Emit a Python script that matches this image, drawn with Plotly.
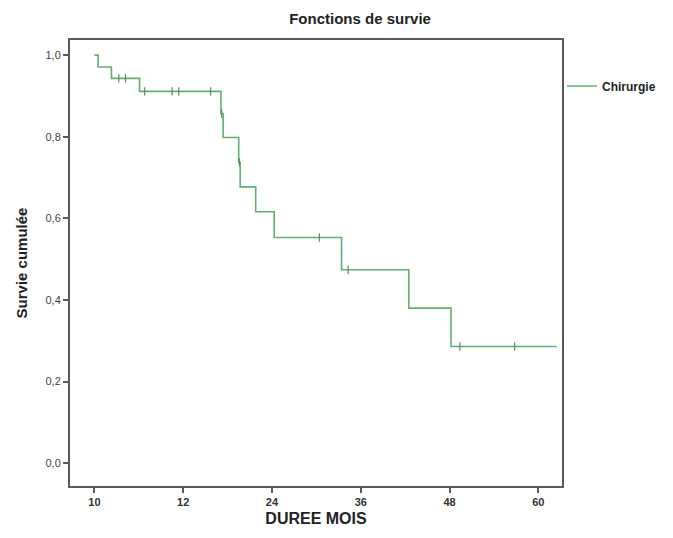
import numpy as np
import plotly.graph_objects as go

# Kaplan-Meier steps (months, cumulative survival)
event_times = [0.0, 0.5, 2.3, 6.1, 17.1, 17.4, 19.5, 19.7, 21.8, 24.3, 33.4, 42.5, 48.2, 62.5]
survival = [1.0, 0.971, 0.943, 0.911, 0.857, 0.798, 0.737, 0.677, 0.616, 0.553, 0.474, 0.380, 0.286, 0.286]
censored_times = [3.3, 4.2, 6.8, 10.5, 11.4, 15.7, 17.2, 19.6, 30.4, 34.3, 49.4, 56.8]

x_tickvals = [0, 12, 24, 36, 48, 60]
x_ticktext = ["10", "12", "24", "36", "48", "60"]
y_tickvals = [0.0, 0.2, 0.4, 0.6, 0.8, 1.0]

green = "#62b06e"
axis_col = "#5a5a5a"

idx = np.searchsorted(np.array(event_times), np.array(censored_times), side="right") - 1
cens_y = [survival[i] for i in idx]

fig = go.Figure()
fig.add_trace(go.Scatter(
    x=event_times, y=survival, mode="lines", line=dict(shape="hv", color=green, width=1.6),
    name="Chirurgie", showlegend=True))
fig.add_trace(go.Scatter(
    x=censored_times, y=cens_y, mode="markers",
    marker=dict(symbol="line-ns", size=6, line=dict(color="#5d8a66", width=1.2)),
    showlegend=False, hoverinfo="skip"))

fig.update_layout(
    width=673, height=538,
    margin=dict(l=70, r=96, t=40, b=52),
    paper_bgcolor="white", plot_bgcolor="white",
    separators=",.",
    title=dict(text="<b>Fonctions de survie</b>", x=0.535, xanchor="center", y=0.965, yanchor="middle",
               font=dict(family="Liberation Sans, Arial", size=15, color="#222")),
    legend=dict(x=1.0, y=0.897, xanchor="left", yanchor="middle", bgcolor="rgba(0,0,0,0)",
                itemwidth=30,
                font=dict(family="Liberation Sans, Arial", size=12, color="#222", weight="bold")),
    font=dict(family="Liberation Sans, Arial", color="#333"),
)
fig.update_xaxes(
    range=[-3.3, 63.2], tickvals=x_tickvals, ticktext=x_ticktext,
    showgrid=False, zeroline=False, showline=True, mirror=True, linecolor=axis_col, linewidth=2,
    ticks="outside", ticklen=5, tickcolor=axis_col, tickwidth=1.5,
    tickfont=dict(size=11, color="#333", weight="bold"),
    title=dict(text="<b>DUREE MOIS</b>", standoff=6, font=dict(size=16, color="#222")))
fig.update_yaxes(
    range=[-0.056, 1.037], tickvals=y_tickvals, tickformat=".1f",
    showgrid=False, zeroline=False, showline=True, mirror=True, linecolor=axis_col, linewidth=2,
    ticks="outside", ticklen=5, tickcolor=axis_col, tickwidth=1.5,
    tickfont=dict(size=11, color="#444"),
    title=dict(text="<b>Survie cumulée</b>", standoff=14, font=dict(size=15, color="#222")))

fig.write_html("out.html")
